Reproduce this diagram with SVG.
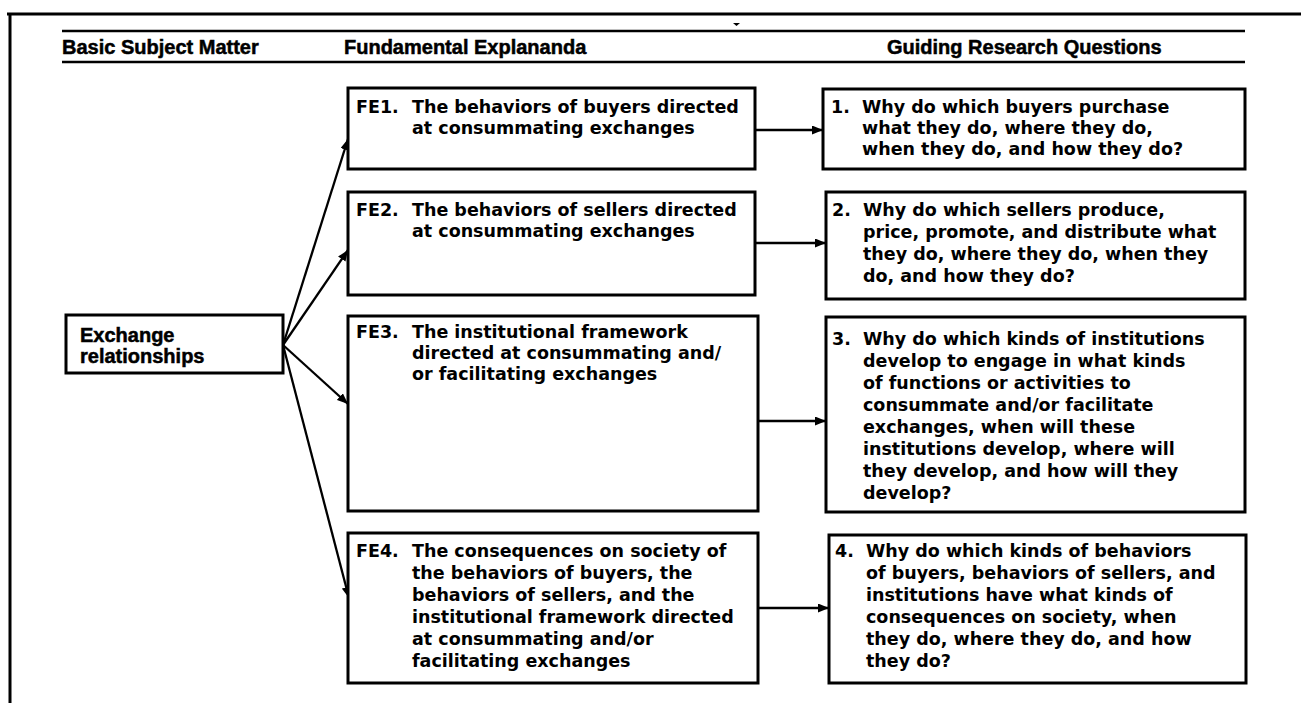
<svg xmlns="http://www.w3.org/2000/svg" width="1301" height="703" viewBox="0 0 1301 703">
<defs>
<style>
.frame{stroke:#000;stroke-width:3;fill:none}
.rule{stroke:#000;stroke-width:2.5;fill:none}
.box{fill:#fff;stroke:#000;stroke-width:3}
.hd{font-family:"Liberation Sans",Arial,sans-serif;font-weight:bold;font-size:20px;fill:#000;stroke:#000;stroke-width:0.5}
.tx{font-family:"DejaVu Sans","Liberation Sans",sans-serif;font-weight:bold;font-size:17.5px;fill:#000}
.conn{stroke:#000;stroke-width:2.3;fill:none;marker-end:url(#ah)}
</style>
<marker id="ah" viewBox="0 0 11 9" refX="11" refY="4.5" markerWidth="11" markerHeight="9" markerUnits="userSpaceOnUse" orient="auto">
<path d="M0,0 L11,4.5 L0,9 Z" fill="#000"/>
</marker>
</defs>
<rect width="1301" height="703" fill="#fff"/>
<g id="frame">
<line class="frame" x1="7" y1="14" x2="1301" y2="14"/>
<line class="frame" x1="10" y1="13" x2="10" y2="703"/>
<path d="M733,23 L740,23 L736.5,26 Z" fill="#000"/>
<line class="rule" x1="62" y1="31" x2="1245" y2="31"/>
<line class="rule" x1="62" y1="62" x2="1245" y2="62"/>
<text class="hd" x="62" y="54">Basic Subject Matter</text>
<text class="hd" x="344" y="54">Fundamental Explananda</text>
<text class="hd" x="887" y="54">Guiding Research Questions</text>
</g>
<g id="connectors">
<line class="conn" x1="283" y1="345" x2="348" y2="139"/>
<line class="conn" x1="283" y1="345" x2="348" y2="250"/>
<line class="conn" x1="283" y1="345" x2="348" y2="404"/>
<line class="conn" x1="283" y1="345" x2="349" y2="598"/>
<line class="conn" x1="755" y1="130" x2="823" y2="130"/>
<line class="conn" x1="755" y1="243" x2="826" y2="243"/>
<line class="conn" x1="758" y1="421" x2="826" y2="421"/>
<line class="conn" x1="758" y1="608" x2="829" y2="608"/>
</g>
<g id="exchange">
<rect class="box" x="66" y="315" width="217" height="58"/>
<text class="hd" x="80" y="342">Exchange</text>
<text class="hd" x="80" y="363">relationships</text>
</g>
<g id="fe1">
<rect class="box" x="348" y="88" width="407" height="81"/>
<text class="tx" x="356" y="113">FE1.</text>
<text class="tx" x="412" y="113">The behaviors of buyers directed</text>
<text class="tx" x="412" y="134">at consummating exchanges</text>
</g>
<g id="fe2">
<rect class="box" x="348" y="192" width="407" height="103"/>
<text class="tx" x="356" y="216">FE2.</text>
<text class="tx" x="412" y="216">The behaviors of sellers directed</text>
<text class="tx" x="412" y="237">at consummating exchanges</text>
</g>
<g id="fe3">
<rect class="box" x="348" y="316" width="410" height="195"/>
<text class="tx" x="356" y="338">FE3.</text>
<text class="tx" x="412" y="338">The institutional framework</text>
<text class="tx" x="412" y="359">directed at consummating and/</text>
<text class="tx" x="412" y="380">or facilitating exchanges</text>
</g>
<g id="fe4">
<rect class="box" x="348" y="533" width="410" height="150"/>
<text class="tx" x="356" y="557">FE4.</text>
<text class="tx" x="412" y="557">The consequences on society of</text>
<text class="tx" x="412" y="579">the behaviors of buyers, the</text>
<text class="tx" x="412" y="601">behaviors of sellers, and the</text>
<text class="tx" x="412" y="623">institutional framework directed</text>
<text class="tx" x="412" y="645">at consummating and/or</text>
<text class="tx" x="412" y="667">facilitating exchanges</text>
</g>
<g id="rq1">
<rect class="box" x="823" y="89" width="422" height="80"/>
<text class="tx" x="831" y="113">1.</text>
<text class="tx" x="862" y="113">Why do which buyers purchase</text>
<text class="tx" x="862" y="134">what they do, where they do,</text>
<text class="tx" x="862" y="155">when they do, and how they do?</text>
</g>
<g id="rq2">
<rect class="box" x="826" y="192" width="419" height="107"/>
<text class="tx" x="832" y="216">2.</text>
<text class="tx" x="863" y="216">Why do which sellers produce,</text>
<text class="tx" x="863" y="238">price, promote, and distribute what</text>
<text class="tx" x="863" y="260">they do, where they do, when they</text>
<text class="tx" x="863" y="282">do, and how they do?</text>
</g>
<g id="rq3">
<rect class="box" x="826" y="317" width="419" height="195"/>
<text class="tx" x="832" y="345">3.</text>
<text class="tx" x="863" y="345">Why do which kinds of institutions</text>
<text class="tx" x="863" y="367">develop to engage in what kinds</text>
<text class="tx" x="863" y="389">of functions or activities to</text>
<text class="tx" x="863" y="411">consummate and/or facilitate</text>
<text class="tx" x="863" y="433">exchanges, when will these</text>
<text class="tx" x="863" y="455">institutions develop, where will</text>
<text class="tx" x="863" y="477">they develop, and how will they</text>
<text class="tx" x="863" y="499">develop?</text>
</g>
<g id="rq4">
<rect class="box" x="829" y="535" width="417" height="148"/>
<text class="tx" x="835" y="557">4.</text>
<text class="tx" x="866" y="557">Why do which kinds of behaviors</text>
<text class="tx" x="866" y="579">of buyers, behaviors of sellers, and</text>
<text class="tx" x="866" y="601">institutions have what kinds of</text>
<text class="tx" x="866" y="623">consequences on society, when</text>
<text class="tx" x="866" y="645">they do, where they do, and how</text>
<text class="tx" x="866" y="667">they do?</text>
</g>
</svg>
